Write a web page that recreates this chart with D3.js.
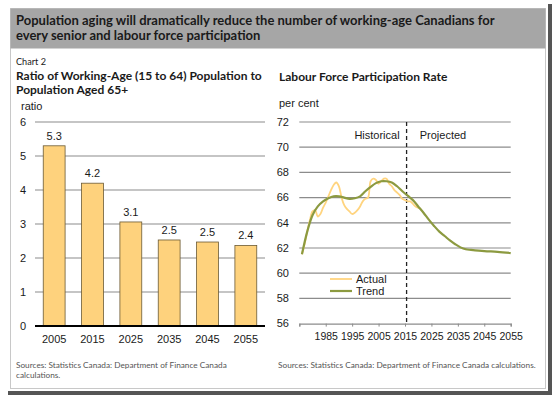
<!DOCTYPE html>
<html>
<head>
<meta charset="utf-8">
<script src="https://cdn.jsdelivr.net/npm/d3@7"></script>
<style>
  body { margin: 0; background: #fff; }
  svg { display: block; }
</style>
</head>
<body>
<svg id="chart" width="554" height="398"></svg>
<script>

// left panel: ratio of working-age population to 65+
var ratioYears = ['2005', '2015', '2025', '2035', '2045', '2055'];
var ratioValues = [5.3, 4.2, 3.06, 2.53, 2.47, 2.37];
var ratioTicks = [0, 1, 2, 3, 4, 5, 6];

// right panel: labour force participation rate (per cent)
var actualYears = [1976, 1977, 1978, 1979, 1980, 1981, 1982, 1983, 1984, 1985,
    1986, 1987, 1988, 1989, 1990, 1991, 1992, 1993, 1994, 1995,
    1996, 1997, 1998, 1999, 2000, 2001, 2002, 2003, 2004, 2005,
    2006, 2007, 2008, 2009, 2010, 2011, 2012, 2013, 2014, 2015,
    2016, 2017, 2018, 2019, 2020, 2021];
var actualValues = [61.5, 62.3, 63.3, 64.2, 64.9, 65.0, 64.5, 64.7, 65.2, 65.6,
    66.1, 66.6, 67.0, 67.2, 66.9, 66.0, 65.4, 65.1, 64.9, 64.7,
    64.8, 65.0, 65.3, 65.7, 65.9, 66.0, 67.3, 67.5, 67.4, 67.1,
    67.3, 67.5, 67.5, 67.1, 66.9, 66.6, 66.4, 66.2, 65.9, 65.8,
    65.7, 65.7, 65.5, 65.3, 65.2, 65.1];

var trendYears = [1976, 1978, 1980, 1982, 1984, 1986, 1988, 1990, 1992, 1994,
    1996, 1998, 2000, 2002, 2004, 2006, 2008, 2010, 2012, 2014,
    2016, 2018, 2020, 2022, 2024, 2026, 2028, 2030, 2032, 2034,
    2036, 2038, 2040, 2045, 2050, 2055];
var trendValues = [61.5, 63.3, 64.6, 65.3, 65.7, 65.95, 66.1, 66.1, 66.0, 65.9,
    65.95, 66.1, 66.5, 66.85, 67.15, 67.3, 67.3, 67.2, 66.9, 66.5,
    66.15, 65.8, 65.3, 64.8, 64.25, 63.75, 63.3, 62.95, 62.6, 62.3,
    62.05, 61.9, 61.85, 61.75, 61.7, 61.6];

var rateTicks = [56, 58, 60, 62, 64, 66, 68, 70, 72];
var yearTicks = [1975, 1985, 1995, 2005, 2015, 2025, 2035, 2045, 2055];
var projectionStart = 2015.6;

var svg = d3.select('#chart');
var sans = 'Liberation Sans, Arial, sans-serif';
var gothic = 'Lato, sans-serif';

// shrink a text node until it spans the given width
function fitWidth(sel, width) {
    sel.each(function() {
        var size = parseFloat(d3.select(this).attr('font-size'));
        var w = this.getComputedTextLength();
        if (w > 0) {
            d3.select(this).attr('font-size', (size * width / w).toFixed(2));
        }
    });
}

// frame, shadow and title band
svg.append('rect').attr('x', 548).attr('y', 4).attr('width', 4).attr('height', 391).attr('fill', '#555');
svg.append('rect').attr('x', 8).attr('y', 391).attr('width', 544).attr('height', 4).attr('fill', '#555');
svg.append('rect')
    .attr('x', 10.5).attr('y', 8.5)
    .attr('width', 535).attr('height', 380)
    .attr('fill', '#fff')
    .attr('stroke', '#c8c8c8');
svg.append('rect')
    .attr('x', 10.5).attr('y', 8.5)
    .attr('width', 535).attr('height', 40)
    .attr('fill', '#a6a6a6');

var headLines = ['Population aging will dramatically reduce the number of working-age Canadians for',
    'every senior and labour force participation'];
svg.selectAll('text.head')
    .data(headLines)
    .enter().append('text')
    .attr('class', 'head')
    .attr('x', 16)
    .attr('y', function(d, i) { return 25 + i * 15; })
    .attr('font-family', gothic)
    .attr('font-weight', 'bold')
    .attr('font-size', 12)
    .attr('fill', '#1a1a1a')
    .text(function(d) { return d; });
fitWidth(svg.select('text.head'), 479);
svg.selectAll('text.head').attr('font-size', svg.select('text.head').attr('font-size'));

function addText(x, y, str, size, opts) {
    opts = opts || {};
    var t = svg.append('text')
        .attr('x', x)
        .attr('y', y)
        .attr('font-family', opts.family || sans)
        .attr('font-size', size)
        .attr('font-weight', opts.weight || 'normal')
        .attr('fill', opts.fill || '#1a1a1a')
        .attr('text-anchor', opts.anchor || 'start')
        .text(str);
    if (opts.width) fitWidth(t, opts.width);
    return t;
}

addText(16, 65, 'Chart 2', 11, { family: gothic, width: 30 });
var t1 = addText(16, 80, 'Ratio of Working-Age (15 to 64) Population to', 12, { family: gothic, weight: 'bold', width: 246 });
addText(16, 94, 'Population Aged 65+', +t1.attr('font-size'), { family: gothic, weight: 'bold' });
addText(279, 81, 'Labour Force Participation Rate', +t1.attr('font-size'), { family: gothic, weight: 'bold' });

// ---- left: bar chart
var xBand = d3.scaleBand()
    .domain(ratioYears)
    .range([35, 265])
    .paddingInner(0.43)
    .paddingOuter(0.215);

var yRatio = d3.scaleLinear().domain([0, 6]).range([326, 122]);

addText(21, 110, 'ratio', 11);

svg.append('g').selectAll('line')
    .data(ratioTicks.filter(function(d) { return d > 0; }))
    .enter().append('line')
    .attr('x1', 35).attr('x2', 265)
    .attr('y1', function(d) { return yRatio(d); })
    .attr('y2', function(d) { return yRatio(d); })
    .attr('stroke', '#8c8c8c')
    .attr('stroke-width', 1.2);

svg.append('g').selectAll('text')
    .data(ratioTicks)
    .enter().append('text')
    .attr('x', 26)
    .attr('y', function(d) { return yRatio(d); })
    .attr('dy', '0.35em')
    .attr('text-anchor', 'end')
    .attr('font-family', sans)
    .attr('font-size', 11)
    .attr('fill', '#1a1a1a')
    .text(function(d) { return d; });

var bars = svg.append('g').selectAll('g')
    .data(ratioValues)
    .enter().append('g');

bars.append('rect')
    .attr('x', function(d, i) { return xBand(ratioYears[i]); })
    .attr('y', function(d) { return yRatio(d); })
    .attr('width', xBand.bandwidth())
    .attr('height', function(d) { return yRatio(0) - yRatio(d); })
    .attr('fill', '#fed27d')
    .attr('stroke', '#6b5a35')
    .attr('stroke-width', 0.8);

bars.append('text')
    .attr('x', function(d, i) { return xBand(ratioYears[i]) + xBand.bandwidth() / 2; })
    .attr('y', function(d) { return yRatio(d) - 6; })
    .attr('text-anchor', 'middle')
    .attr('font-family', sans)
    .attr('font-size', 11)
    .attr('fill', '#1a1a1a')
    .text(function(d) { return d3.format('.1f')(d); });

svg.append('line')
    .attr('x1', 35).attr('x2', 265)
    .attr('y1', yRatio(0)).attr('y2', yRatio(0))
    .attr('stroke', '#000')
    .attr('stroke-width', 2);

svg.append('g').selectAll('text')
    .data(ratioYears)
    .enter().append('text')
    .attr('x', function(d) { return xBand(d) + xBand.bandwidth() / 2; })
    .attr('y', 343)
    .attr('text-anchor', 'middle')
    .attr('font-family', sans)
    .attr('font-size', 11)
    .attr('fill', '#1a1a1a')
    .text(function(d) { return d; });

var s1 = addText(16, 368, 'Sources: Statistics Canada: Department of Finance Canada', 8, { family: gothic, fill: '#555', width: 211 });
addText(16, 378, 'calculations.', +s1.attr('font-size'), { family: gothic, fill: '#555' });

// ---- right: line chart
var xYear = d3.scaleLinear().domain([1975, 2055]).range([299.3, 510.7]);
var yRate = d3.scaleLinear().domain([56, 72]).range([323.6, 122]);

addText(279, 107, 'per cent', 11);

svg.append('g').selectAll('line')
    .data(rateTicks.filter(function(d) { return d > 56; }))
    .enter().append('line')
    .attr('x1', xYear(1975)).attr('x2', xYear(2055))
    .attr('y1', function(d) { return yRate(d); })
    .attr('y2', function(d) { return yRate(d); })
    .attr('stroke', '#8c8c8c')
    .attr('stroke-width', 1.2);

svg.append('g').selectAll('text')
    .data(rateTicks)
    .enter().append('text')
    .attr('x', 289)
    .attr('y', function(d) { return yRate(d); })
    .attr('dy', '0.35em')
    .attr('text-anchor', 'end')
    .attr('font-family', sans)
    .attr('font-size', 11)
    .attr('fill', '#1a1a1a')
    .text(function(d) { return d; });

var xAxis = d3.axisBottom(xYear)
    .tickValues(yearTicks)
    .tickSize(3)
    .tickFormat(function(d) { return d === 1975 ? '' : d; });

var gx = svg.append('g')
    .attr('transform', 'translate(0,' + yRate(56) + ')')
    .call(xAxis);
gx.select('.domain').attr('stroke', '#8c8c8c').attr('stroke-width', 1.2);
gx.selectAll('.tick line').attr('stroke', '#8c8c8c');
gx.selectAll('.tick text')
    .attr('font-family', sans)
    .attr('font-size', 10.5)
    .attr('fill', '#1a1a1a')
    .attr('dy', null)
    .attr('y', 16);

svg.append('line')
    .attr('x1', xYear(projectionStart)).attr('x2', xYear(projectionStart))
    .attr('y1', yRate(72)).attr('y2', yRate(56))
    .attr('stroke', '#222')
    .attr('stroke-width', 1.3)
    .attr('stroke-dasharray', '4,3');

addText(377, 139, 'Historical', 11, { anchor: 'middle' });
addText(443, 139, 'Projected', 11, { anchor: 'middle' });

var line = d3.line()
    .x(function(d) { return xYear(d[0]); })
    .y(function(d) { return yRate(d[1]); })
    .curve(d3.curveCatmullRom.alpha(0.5));

svg.append('path')
    .datum(d3.zip(actualYears, actualValues))
    .attr('d', line)
    .attr('fill', 'none')
    .attr('stroke', '#ffd47f')
    .attr('stroke-width', 1.8);

svg.append('path')
    .datum(d3.zip(trendYears, trendValues))
    .attr('d', line)
    .attr('fill', 'none')
    .attr('stroke', '#8c9a40')
    .attr('stroke-width', 2.2);

// legend
var legend = [{ name: 'Actual', color: '#ffd47f', w: 1.8 }, { name: 'Trend', color: '#8c9a40', w: 2.2 }];
var lg = svg.append('g').selectAll('g')
    .data(legend)
    .enter().append('g')
    .attr('transform', function(d, i) { return 'translate(330,' + (279 + i * 12) + ')'; });
lg.append('line')
    .attr('x1', 0).attr('x2', 22)
    .attr('stroke', function(d) { return d.color; })
    .attr('stroke-width', function(d) { return d.w; });
lg.append('text')
    .attr('x', 26)
    .attr('dy', '0.35em')
    .attr('font-family', sans)
    .attr('font-size', 11)
    .attr('fill', '#1a1a1a')
    .text(function(d) { return d.name; });

addText(278, 368, 'Sources: Statistics Canada: Department of Finance Canada calculations.', 8, { family: gothic, fill: '#555', width: 258 });

</script>
</body>
</html>
